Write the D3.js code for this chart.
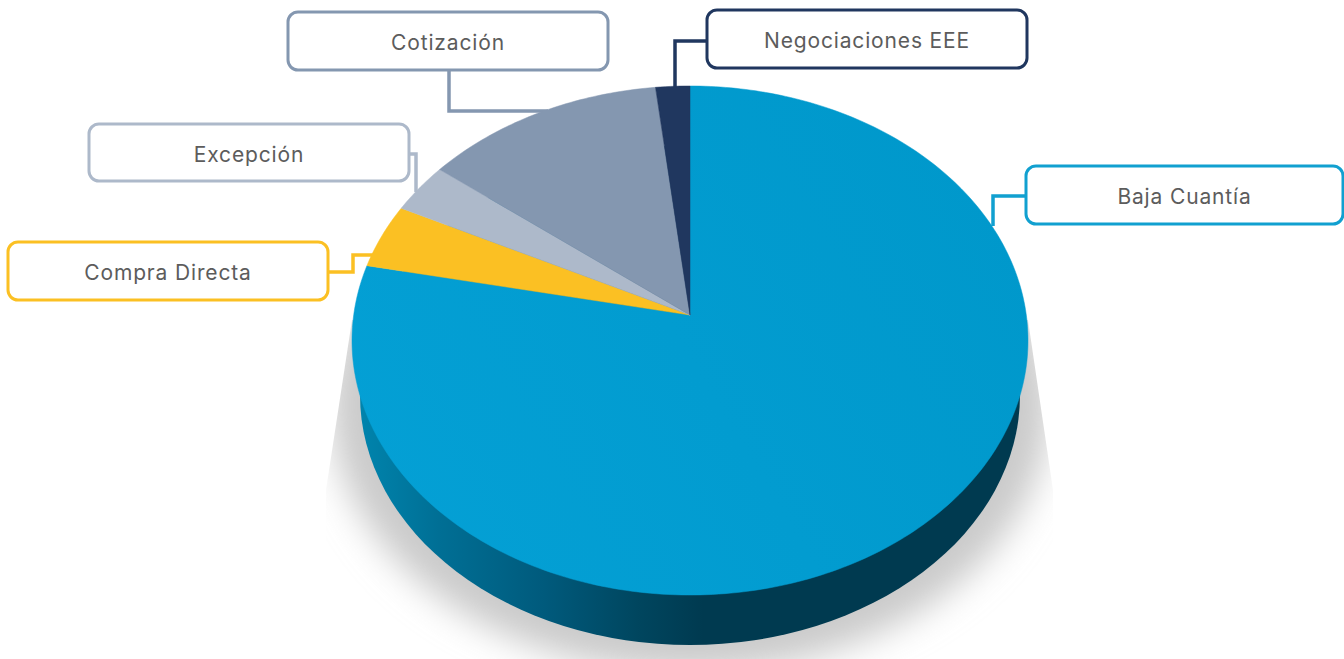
<!DOCTYPE html>
<html>
<head>
<meta charset="utf-8">
<script src="https://cdn.jsdelivr.net/npm/d3@7"></script>
<style>
  html, body { margin: 0; padding: 0; background: #fff; overflow: hidden; }
  svg { display: block; }
  text { font-family: Inter, "Open Sans", sans-serif; }
</style>
</head>
<body>
<div id="chart"></div>
<script>
// values, clockwise from 12 o'clock
const categories = ["Baja Cuantía", "Compra Directa", "Excepción", "Cotización", "Negociaciones EEE"];
const shares = [78.2, 4.1, 3.2, 12.7, 1.8];
const colors = ["url(#topBlue)", "#fbc023", "#adb9ca", "#8497b0", "#20375f"];
const lineColors = ["#11a0d0", "#fbc023", "#adb9ca", "#8497b0", "#20375f"];

// label boxes and their elbow lines, same order as categories
const boxes = [
  { x: 1026, y: 166, w: 317, h: 58, line: [[1026, 196], [993, 196], [993, 226]] },
  { x: 8, y: 242, w: 320, h: 58, line: [[328, 272], [353, 272], [353, 255], [385, 255]] },
  { x: 89, y: 124, w: 320, h: 57, line: [[409, 154], [416, 154], [416, 192]] },
  { x: 288, y: 12, w: 320, h: 58, line: [[449, 70], [449, 111], [548, 111]] },
  { x: 707, y: 10, w: 320, h: 58, line: [[707, 41], [675, 41], [675, 90]] }
];

const width = 1344, height = 659;

// the disc is seen in perspective: apex sits above the ellipse centre
const cx = 690, apexY = 315, topY = 86, bottomY = 595, halfW = 338;
const persp = (2 * apexY - topY - bottomY) / (bottomY - topY);
const vScale = apexY - topY + topY * persp;
const uScale = halfW * Math.sqrt(1 - persp * persp);

function project(t) {
  const u = Math.sin(t), v = -Math.cos(t);
  const w = 1 + persp * v;
  return [cx + uScale * u / w, (vScale * v + apexY) / w];
}

const svg = d3.select("#chart").append("svg")
  .attr("width", width)
  .attr("height", height);

const defs = svg.append("defs");

const wallGrad = defs.append("linearGradient")
  .attr("id", "wallGrad")
  .attr("gradientUnits", "userSpaceOnUse")
  .attr("x1", 360).attr("x2", 1020).attr("y1", 0).attr("y2", 0);
[[0, "#0084ad"], [0.12, "#006f95"], [0.28, "#005a7c"], [0.42, "#00465f"], [0.52, "#003a50"], [1, "#003a50"]]
  .forEach(s => wallGrad.append("stop").attr("offset", s[0]).attr("stop-color", s[1]));

const topBlue = defs.append("linearGradient")
  .attr("id", "topBlue")
  .attr("gradientUnits", "userSpaceOnUse")
  .attr("x1", 400).attr("y1", 560).attr("x2", 1000).attr("y2", 200);
[[0, "#04a0d5"], [1, "#0098cb"]]
  .forEach(s => topBlue.append("stop").attr("offset", s[0]).attr("stop-color", s[1]));

defs.append("filter")
  .attr("id", "blur")
  .attr("x", "-20%").attr("y", "-20%").attr("width", "140%").attr("height", "140%")
  .append("feGaussianBlur")
  .attr("stdDeviation", 17);

// straight side edges of the cast shadow
defs.append("clipPath")
  .attr("id", "shadowClip")
  .append("polygon")
  .attr("points", "352,320 1028,320 1053,490 1053,659 326,659 326,490");

// shadow
svg.append("g")
  .attr("clip-path", "url(#shadowClip)")
  .append("ellipse")
  .attr("cx", cx).attr("cy", 405)
  .attr("rx", 360).attr("ry", 268)
  .attr("fill", "#cbcbcb")
  .attr("filter", "url(#blur)");

// side wall
svg.append("ellipse")
  .attr("cx", cx).attr("cy", 395)
  .attr("rx", 330).attr("ry", 250)
  .attr("fill", "url(#wallGrad)");

// connector lines go under the slices
const lineGen = d3.line();
svg.selectAll(".connector")
  .data(boxes)
  .enter()
  .append("path")
  .attr("class", "connector")
  .attr("d", d => lineGen(d.line))
  .attr("fill", "none")
  .attr("stroke", (d, i) => lineColors[i])
  .attr("stroke-width", 3.5);

const pie = d3.pie().sort(null);

function slicePath(d) {
  const n = Math.max(4, Math.ceil((d.endAngle - d.startAngle) * 60));
  const rim = d3.range(n + 1).map(i => project(d.startAngle + (d.endAngle - d.startAngle) * i / n));
  return lineGen([[cx, apexY]].concat(rim)) + "Z";
}

svg.selectAll(".slice")
  .data(pie(shares))
  .enter()
  .append("path")
  .attr("class", "slice")
  .attr("d", slicePath)
  .attr("fill", (d, i) => colors[i])
  .attr("stroke", (d, i) => colors[i])
  .attr("stroke-width", 0.5);

// label boxes
const label = svg.selectAll(".label")
  .data(boxes)
  .enter()
  .append("g")
  .attr("class", "label");

label.append("rect")
  .attr("x", d => d.x)
  .attr("y", d => d.y)
  .attr("width", d => d.w)
  .attr("height", d => d.h)
  .attr("rx", 10)
  .attr("fill", "#fff")
  .attr("stroke", (d, i) => lineColors[i])
  .attr("stroke-width", 3);

label.append("text")
  .attr("x", d => d.x + d.w / 2)
  .attr("y", d => d.y + d.h / 2 + 9)
  .attr("text-anchor", "middle")
  .attr("fill", "#5c5c5c")
  .style("font-size", "21px")
  .style("letter-spacing", "0.85px")
  .text((d, i) => categories[i]);
</script>
</body>
</html>
